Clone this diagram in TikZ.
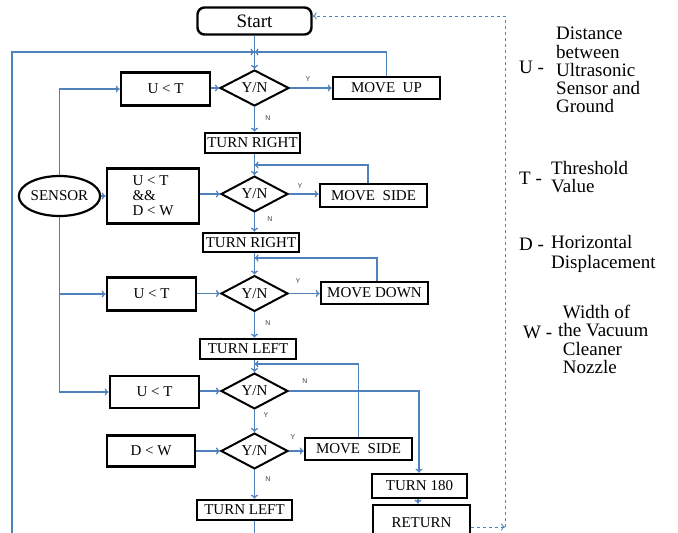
\documentclass[tikz,border=0pt]{standalone}
\usepackage{fontspec}
\setmainfont{Liberation Serif}
\newfontfamily\lblfont{Liberation Sans}
\usetikzlibrary{shapes.geometric,arrows.meta}
\definecolor{flowblue}{RGB}{79,129,189}
\begin{document}
\begin{tikzpicture}[x=1pt,y=-1pt,
  box/.style={draw=black,line width=2.6pt,rectangle,inner sep=0pt,font=\fontsize{15}{15}\selectfont},
  dec/.style={draw=black,line width=2pt,diamond,inner sep=0pt,minimum width=67pt,minimum height=35pt,font=\fontsize{15}{15}\selectfont},
  flow/.style={draw=flowblue,line width=1.3pt},
  arr/.style={flow,-{To[length=4pt,width=7pt]}},
  dsh/.style={draw=flowblue,line width=0.9pt,dashed,-{To[length=4pt,width=7pt]}},
  lbl/.style={font=\lblfont\fontsize{7}{7}\selectfont,text=black!75,inner sep=0pt},
  leg/.style={font=\fontsize{19}{18.3}\selectfont,align=left,inner sep=0pt}]
\useasboundingbox (0,0) rectangle (678,533);
\fill[white] (0,0) rectangle (678,533);

% nodes
\node[draw=black,line width=2.4pt,rounded corners=7pt,minimum width=114pt,minimum height=27pt,inner sep=0pt,font=\fontsize{19}{19}\selectfont] (start) at (254.5,21) {Start};

\node[box,minimum width=89pt,minimum height=33pt] (c1) at (165.5,89) {U < T};
\node[dec,minimum width=69pt,minimum height=36pt] (d1) at (254.5,88) {Y/N};
\node[box,minimum width=107pt,minimum height=22pt] (mu) at (386.5,88) {MOVE\ \ UP};
\node[box,minimum width=95pt,minimum height=20pt] (tr1) at (252.5,143) {TURN RIGHT};

\node[ellipse,draw=black,line width=2.2pt,minimum width=77pt,minimum height=40pt,inner sep=0pt,font=\fontsize{15}{15}\selectfont] (sensor) at (59.5,196) {SENSOR};
\node[box,minimum width=92pt,minimum height=55pt,align=left] (c2) at (153,196) {U < T\\\&\&\\D < W};
\node[dec] (d2) at (254.5,194) {Y/N};
\node[box,minimum width=107pt,minimum height=23pt] (ms1) at (373.5,195.5) {MOVE\ \ SIDE};
\node[box,minimum width=96pt,minimum height=19pt] (tr2) at (251,242.5) {TURN RIGHT};

\node[box,minimum width=89pt,minimum height=33pt] (c3) at (151.5,294) {U < T};
\node[dec] (d3) at (254.5,293.5) {Y/N};
\node[box,minimum width=107pt,minimum height=22pt] (md) at (374.5,293) {MOVE DOWN};
\node[box,minimum width=96pt,minimum height=20pt] (tl1) at (248,349) {TURN LEFT};

\node[box,minimum width=89pt,minimum height=32pt] (c4) at (154.5,392) {U < T};
\node[dec] (d4) at (254.5,391) {Y/N};
\node[box,minimum width=88pt,minimum height=31pt] (c5) at (151,451) {D < W};
\node[dec] (d5) at (254.5,451) {Y/N};
\node[box,minimum width=107pt,minimum height=22pt] (ms2) at (358.5,449) {MOVE\ \ SIDE};
\node[box,minimum width=95pt,minimum height=20pt] (tl2) at (244.5,510) {TURN LEFT};
\node[box,minimum width=95pt,minimum height=24pt] (t180) at (419.5,486) {TURN 180};
\node[box,minimum width=97pt,minimum height=36pt] (ret) at (421.5,523) {RETURN};

% coordinates
\coordinate (lb) at (12,545);
\coordinate (j1) at (254.5,52);
\coordinate (j2) at (254.5,165);
\coordinate (j3) at (254.5,258);
\coordinate (j4) at (254.5,364);
\coordinate (bot) at (254.5,545);
\coordinate (dr) at (505,527);

% connectors
\draw[arr] (start.south) -- (d1.north);
\draw[arr] (lb) |- (j1);
\draw[arr] (mu.north) |- (j1);
\draw[arr] (c1.east |- d1.west) -- (d1.west);
\draw[arr] (d1.east) -- (mu.west);
\draw[arr] (d1.south) -- (d1.south |- tr1.north);

\draw[arr] (d2.north |- tr1.south) -- (d2.north);
\draw[arr] ([xshift=-5.5pt]ms1.north) |- (j2);
\draw[arr] (c2.east |- d2.west) -- (d2.west);
\draw[arr] (d2.east) -- (ms1.west |- d2.east);
\draw[arr] (d2.south) -- (d2.south |- tr2.north);

\draw[arr] (d3.north |- tr2.south) -- (d3.north);
\draw[arr] ([xshift=2.5pt]md.north) |- (j3);
\draw[arr] (c3.east |- d3.west) -- (d3.west);
\draw[arr] (d3.east) -- (md.west |- d3.east);
\draw[arr] (d3.south) -- (d3.south |- tl1.north);

\draw[arr] (d4.north |- tl1.south) -- (d4.north);
\draw[arr] (ms2.north) |- (j4);
\draw[arr] (c4.east |- d4.west) -- (d4.west);
\draw[arr] (d4.east) -| (t180.north -| 419,0);
\draw[arr] (d4.south) -- (d5.north);
\draw[arr] (c5.east |- d5.west) -- (d5.west);
\draw[arr] (d5.east) -- (ms2.west |- d5.east);
\draw[arr] (d5.south) -- (d5.south |- tl2.north);
\draw[flow] (d5.south |- tl2.south) -- (bot);
\draw[arr] (t180.south -| 418,0) -- (ret.north -| 418,0);

\draw[arr] (sensor.north) |- (c1.west);
\draw[arr] (sensor.east) -- (c2.west);
\draw[arr] (sensor.south) |- (c4.west);
\draw[arr] (sensor.south |- c3.west) -- (c3.west);

\draw[dsh] ([yshift=-4pt]ret.east) -- (dr);
\draw[dsh] (dr) |- ([yshift=5pt]start.east);

% small labels
\node[lbl] (ly1) at (308,79) {Y};
\node[lbl] (ln1) at (268,118) {N};
\node[lbl] (ly2) at (300,186) {Y};
\node[lbl] (ln2) at (270,219) {N};
\node[lbl] (ly3) at (298,281) {Y};
\node[lbl] (ln3) at (268,323) {N};
\node[lbl] (ln4) at (305,381) {N};
\node[lbl] (ly4) at (266,415) {Y};
\node[lbl] (ly5) at (293,437) {Y};
\node[lbl] (ln5) at (268,479) {N};

% legend
\node[leg,anchor=west] (lu) at (519,67) {U -};
\node[leg,anchor=north west] (lut) at (556,27) {Distance\\ between\\ Ultrasonic\\ Sensor and\\ Ground};
\node[leg,anchor=west] (lt) at (519,178) {T -};
\node[leg,anchor=north west] (ltt) at (551,161) {Threshold\\Value};
\node[leg,anchor=west] (ld) at (519,244) {D -};
\node[leg,anchor=north west,font=\fontsize{19}{20}\selectfont] (ldt) at (551,235) {Horizontal\\Displacement};
\node[leg,anchor=west] (lw) at (523,332) {W -};
\node[leg,anchor=north west] (lwt) at (558,305) {\ Width of\\the Vacuum\\\ Cleaner\\\ Nozzle};
\end{tikzpicture}
\end{document}
